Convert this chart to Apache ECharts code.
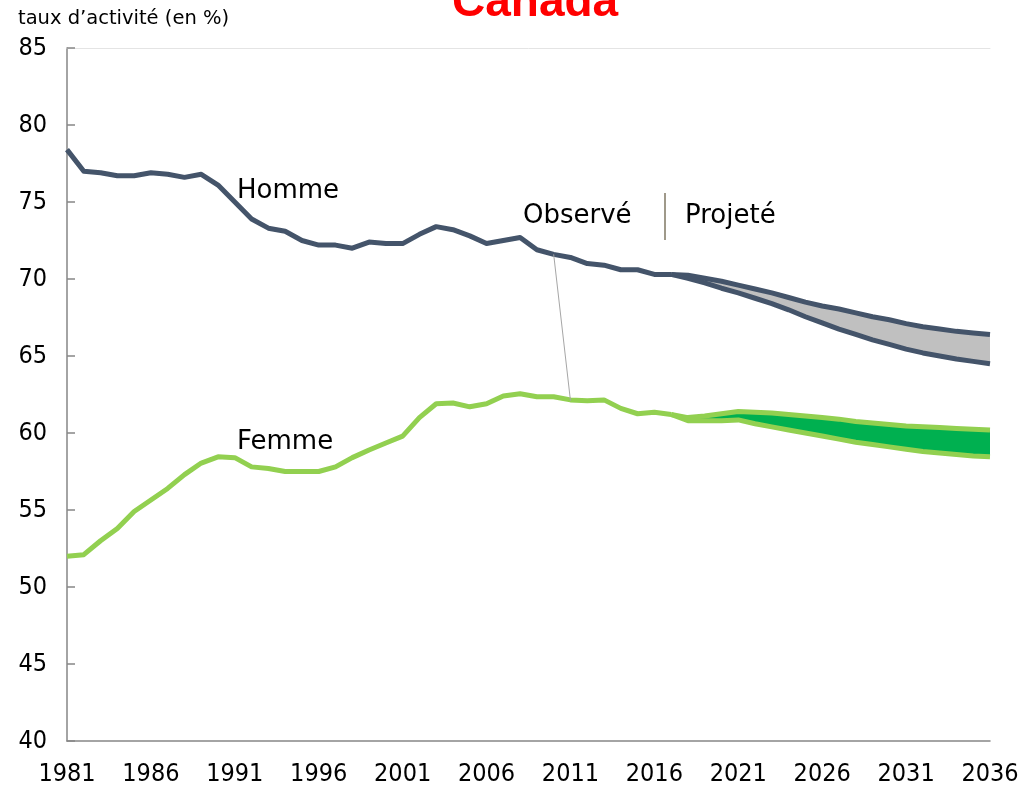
<!DOCTYPE html>
<html>
<head>
<meta charset="utf-8">
<script src="https://cdn.jsdelivr.net/npm/echarts@6/dist/echarts.min.js"></script>
<style>html,body{margin:0;padding:0;background:#fff}#c{width:1027px;height:788px}</style>
</head>
<body>
<div id="c"></div>
<script>
const years = ['1981','1982','1983','1984','1985','1986','1987','1988','1989','1990','1991','1992','1993','1994','1995','1996','1997','1998','1999','2000','2001','2002','2003','2004','2005','2006','2007','2008','2009','2010','2011','2012','2013','2014','2015','2016','2017','2018','2019','2020','2021','2022','2023','2024','2025','2026','2027','2028','2029','2030','2031','2032','2033','2034','2035','2036'];
// Observed 1981-2017
const hommeObs = [78.4,77.0,76.9,76.7,76.7,76.9,76.8,76.6,76.8,76.1,75.0,73.9,73.3,73.1,72.5,72.2,72.2,72.0,72.4,72.3,72.3,72.9,73.4,73.2,72.8,72.3,72.5,72.7,71.9,71.6,71.4,71.0,70.9,70.6,70.6,70.3,70.3];
const femmeObs = [52.0,52.1,53.0,53.8,54.9,55.65,56.4,57.3,58.05,58.45,58.4,57.8,57.7,57.5,57.5,57.5,57.8,58.4,58.9,59.35,59.8,61.0,61.9,61.95,61.7,61.9,62.4,62.55,62.35,62.35,62.15,62.1,62.15,61.6,61.25,61.35,61.2];
// Projections 2017-2036
const hommeHaut = [70.3,70.25,70.05,69.85,69.6,69.35,69.1,68.8,68.5,68.25,68.05,67.8,67.55,67.35,67.1,66.9,66.75,66.6,66.5,66.4];
const hommeBas  = [70.3,70.05,69.75,69.4,69.1,68.75,68.4,68.0,67.55,67.15,66.75,66.4,66.05,65.75,65.45,65.2,65.0,64.8,64.65,64.5];
const femmeHaut = [61.2,61.0,61.1,61.25,61.4,61.35,61.3,61.2,61.1,61.0,60.9,60.75,60.65,60.55,60.45,60.4,60.35,60.3,60.25,60.2];
const femmeBas  = [61.2,60.8,60.8,60.8,60.85,60.6,60.4,60.2,60.0,59.8,59.6,59.4,59.25,59.1,58.95,58.8,58.7,58.6,58.5,58.45];
const yTicks = {min:40, max:85, interval:5};

const projStart = years.indexOf('2017');
function padObs(a){ return a.concat(new Array(years.length - a.length).fill('-')); }
function padProj(a){ return new Array(projStart).fill('-').concat(a); }
function diff(h,b){ return h.map((v,i)=> +(v - b[i]).toFixed(3)); }

const FONT = "'DejaVu Sans', sans-serif";
const NUMFONT = "'DejaVu Sans Condensed', 'Liberation Sans Narrow', 'DejaVu Sans', sans-serif";
const cMen = '#44546a', cWomen = '#92d050', cMenBand = '#c0c0c0', cWomenBand = '#00b050';

function bandBase(data, stack){
  return {type:'line', data:padProj(data), stack:stack, symbol:'none', lineStyle:{opacity:0, width:0}, silent:true, z:1};
}
function bandTop(data, stack, color){
  return {type:'line', data:padProj(data), stack:stack, symbol:'none', lineStyle:{opacity:0, width:0}, areaStyle:{color:color, opacity:1}, silent:true, z:1};
}
function line(data, color){
  return {type:'line', data:data, symbol:'none', lineStyle:{color:color, width:5, join:'round'}, silent:true, z:3};
}

const chart = echarts.init(document.getElementById('c'), null, {renderer:'canvas'});
chart.setOption({
  animation:false,
  backgroundColor:'#fff',
  grid:{left:67, right:37, top:48, bottom:47},
  xAxis:[{
    type:'category', data:years, boundaryGap:false,
    axisLine:{lineStyle:{color:'#868686', width:1.5}},
    axisTick:{show:false},
    axisLabel:{interval:4, fontSize:25, color:'#000', fontFamily:NUMFONT, margin:21},
    splitLine:{show:false}
  },{
    type:'category', data:years, boundaryGap:false, position:'top',
    axisLine:{lineStyle:{color:'#e4e4e4', width:1}},
    axisTick:{show:false}, axisLabel:{show:false}
  }],
  yAxis:{
    type:'value', min:yTicks.min, max:yTicks.max, interval:yTicks.interval,
    axisLine:{show:true, lineStyle:{color:'#868686', width:1.5}},
    axisTick:{show:true, inside:true, length:8, lineStyle:{color:'#868686', width:1.5}},
    axisLabel:{fontSize:25, color:'#000', fontFamily:NUMFONT, margin:20},
    splitLine:{show:false}
  },
  series:[
    bandBase(hommeBas,'m'),
    bandTop(diff(hommeHaut,hommeBas),'m',cMenBand),
    bandBase(femmeBas,'f'),
    bandTop(diff(femmeHaut,femmeBas),'f',cWomenBand),
    Object.assign(line(padObs(hommeObs), cMen), {
      markLine:{silent:true, symbol:'none', label:{show:false},
        lineStyle:{color:'#a6a6a6', width:1, type:'solid'},
        data:[[{coord:['2010',71.6]},{coord:['2011',62.1]}]]}
    }),
    line(padProj(hommeHaut), cMen),
    line(padProj(hommeBas), cMen),
    line(padObs(femmeObs), cWomen),
    line(padProj(femmeHaut), cWomen),
    line(padProj(femmeBas), cWomen)
  ],
  graphic:[
    {type:'text', left:452, top:-20, style:{text:'Canada', fill:'#ff0000', font:"bold 46px 'Liberation Sans', Arial, sans-serif"}},
    {type:'text', left:18, top:9, style:{text:"taux d\u2019activité (en %)", fill:'#000', font:"19.5px "+FONT}},
    {type:'text', left:237, top:178, style:{text:'Homme', fill:'#000', font:"26px "+FONT}},
    {type:'text', left:237, top:429, style:{text:'Femme', fill:'#000', font:"26px "+FONT}},
    {type:'text', left:523, top:203, style:{text:'Observé', fill:'#000', font:"26px "+FONT}},
    {type:'text', left:685, top:203, style:{text:'Projeté', fill:'#000', font:"26px "+FONT}},
    {type:'line', shape:{x1:665, y1:193, x2:665, y2:240}, style:{stroke:'#7f7763', lineWidth:1.5}}
  ]
});
</script>
</body>
</html>
